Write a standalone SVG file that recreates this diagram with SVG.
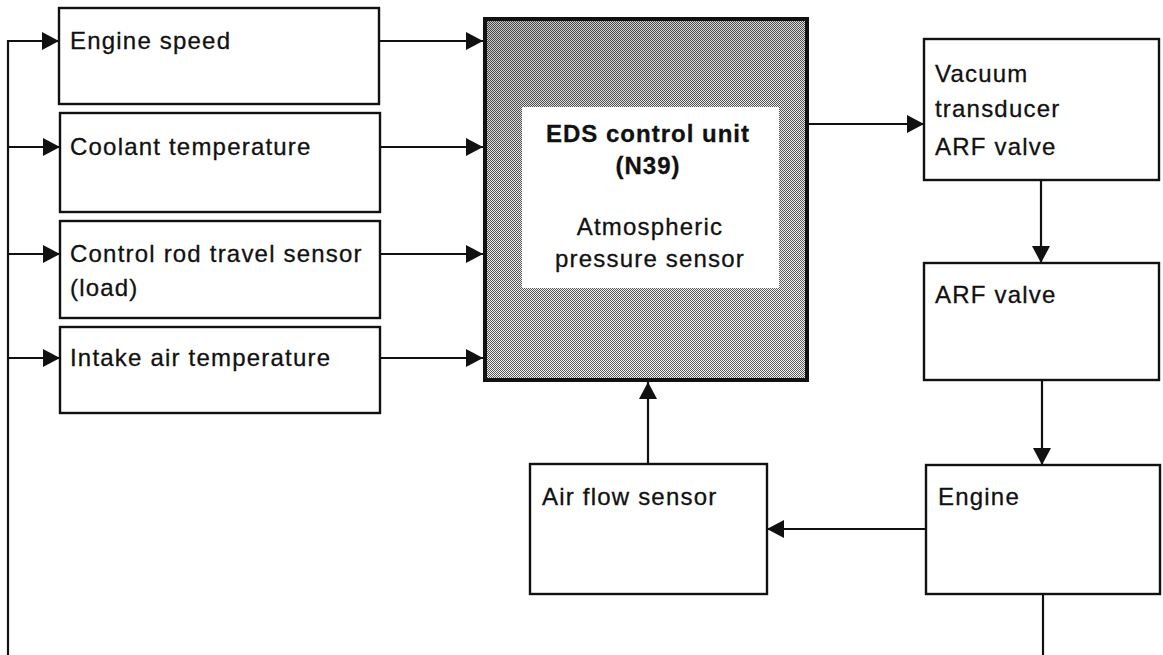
<svg xmlns="http://www.w3.org/2000/svg" width="1163" height="655" viewBox="0 0 1163 655">
  <style>
    .box { fill: #ffffff; stroke: #111111; stroke-width: 2.4; }
    .lbl { font-family: "Liberation Sans", Arial, sans-serif; font-size: 24px; fill: #111111; stroke: #111111; stroke-width: 0.3px; letter-spacing: 1.2px; }
    .bold { font-weight: bold; letter-spacing: 1px; }
    .conn { fill: none; stroke: #111111; stroke-width: 2.2; }
  </style>
  <defs>
    <marker id="arr" viewBox="0 0 17 18" refX="17" refY="9" markerWidth="17" markerHeight="18" markerUnits="userSpaceOnUse" orient="auto">
      <path d="M0,0 L17,9 L0,18 Z" fill="#111111"/>
    </marker>
    <pattern id="dots" x="0" y="0" width="2" height="2" patternUnits="userSpaceOnUse">
      <rect width="2" height="2" fill="#f2f2f2"/>
      <rect x="0" y="0" width="1" height="1" fill="#555555"/>
      <rect x="1" y="1" width="1" height="1" fill="#555555"/>
    </pattern>
    <linearGradient id="shade" x1="0" y1="0" x2="0.3" y2="1">
      <stop offset="0" stop-color="#000000" stop-opacity="0.18"/>
      <stop offset="0.45" stop-color="#000000" stop-opacity="0.03"/>
      <stop offset="1" stop-color="#ffffff" stop-opacity="0.05"/>
    </linearGradient>
  </defs>

  <g id="connectors">
    <path class="conn" d="M8,655 V41 H59" marker-end="url(#arr)"/>
    <path class="conn" d="M8,147 H60" marker-end="url(#arr)"/>
    <path class="conn" d="M8,254 H60" marker-end="url(#arr)"/>
    <path class="conn" d="M8,358 H60" marker-end="url(#arr)"/>
    <path class="conn" d="M379,41 H483" marker-end="url(#arr)"/>
    <path class="conn" d="M380,147 H483" marker-end="url(#arr)"/>
    <path class="conn" d="M380,254 H483" marker-end="url(#arr)"/>
    <path class="conn" d="M380,358 H483" marker-end="url(#arr)"/>
    <path class="conn" d="M809,124 H924" marker-end="url(#arr)"/>
    <path class="conn" d="M1041,180 V263" marker-end="url(#arr)"/>
    <path class="conn" d="M1042,380 V465" marker-end="url(#arr)"/>
    <path class="conn" d="M926,529 H767" marker-end="url(#arr)"/>
    <path class="conn" d="M648,464 V382" marker-end="url(#arr)"/>
    <path class="conn" d="M1043,594 V655"/>
  </g>

  <g id="engine-speed">
    <rect class="box" x="59" y="8" width="320" height="96"/>
    <text class="lbl" x="70" y="49">Engine speed</text>
  </g>
  <g id="coolant-temperature">
    <rect class="box" x="60" y="113" width="320" height="99"/>
    <text class="lbl" x="70" y="155">Coolant temperature</text>
  </g>
  <g id="control-rod">
    <rect class="box" x="60" y="221" width="320" height="97"/>
    <text class="lbl" x="70" y="262">Control rod travel sensor</text>
    <text class="lbl" x="70" y="296">(load)</text>
  </g>
  <g id="intake-air">
    <rect class="box" x="60" y="327" width="320" height="86"/>
    <text class="lbl" x="70" y="366">Intake air temperature</text>
  </g>

  <g id="eds-control-unit">
    <rect x="485" y="19" width="322" height="361" fill="url(#dots)" stroke="#111111" stroke-width="4"/>
    <rect x="487" y="21" width="318" height="357" fill="url(#shade)"/>
    <rect x="522" y="107" width="257" height="181" fill="#ffffff"/>
    <text class="lbl bold" x="648" y="142" text-anchor="middle">EDS control unit</text>
    <text class="lbl bold" x="648" y="174" text-anchor="middle">(N39)</text>
    <text class="lbl" x="650" y="235" text-anchor="middle">Atmospheric</text>
    <text class="lbl" x="650" y="267" text-anchor="middle">pressure sensor</text>
  </g>

  <g id="vacuum-transducer">
    <rect class="box" x="924" y="39" width="235" height="141"/>
    <text class="lbl" x="935" y="82">Vacuum</text>
    <text class="lbl" x="935" y="117">transducer</text>
    <text class="lbl" x="935" y="155">ARF valve</text>
  </g>
  <g id="arf-valve">
    <rect class="box" x="924" y="263" width="235" height="117"/>
    <text class="lbl" x="935" y="303">ARF valve</text>
  </g>
  <g id="engine">
    <rect class="box" x="926" y="465" width="234" height="129"/>
    <text class="lbl" x="938" y="505">Engine</text>
  </g>
  <g id="air-flow-sensor">
    <rect class="box" x="530" y="464" width="237" height="130"/>
    <text class="lbl" x="542" y="505">Air flow sensor</text>
  </g>
</svg>
